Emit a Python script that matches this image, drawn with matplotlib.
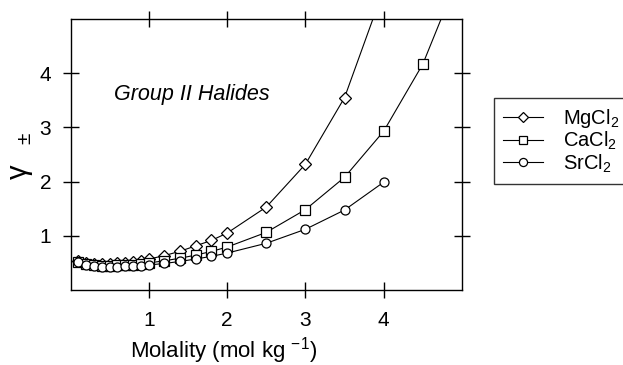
import numpy as np
import matplotlib.pyplot as plt

plt.rcParams['font.family'] = ['Liberation Sans', 'DejaVu Sans']
plt.rcParams['mathtext.fontset'] = 'custom'
plt.rcParams['mathtext.rm'] = 'Liberation Sans'
plt.rcParams['mathtext.it'] = 'Liberation Sans:italic'

# molalidades (mol/kg) e coeficientes de atividade
m_low = [0.1, 0.2, 0.3, 0.4, 0.5, 0.6, 0.7, 0.8, 0.9, 1.0,
         1.2, 1.4, 1.6, 1.8, 2.0, 2.5, 3.0, 3.5, 4.0]
m_mg = m_low
g_mg = [0.529, 0.489, 0.477, 0.475, 0.481, 0.491, 0.506, 0.522, 0.544, 0.570,
        0.635, 0.715, 0.815, 0.915, 1.05, 1.53, 2.32, 3.55, 5.55]
m_ca = m_low + [4.5, 5.0]
g_ca = [0.518, 0.472, 0.455, 0.448, 0.448, 0.453, 0.460, 0.470, 0.484, 0.500,
        0.539, 0.587, 0.644, 0.712, 0.792, 1.063, 1.483, 2.08, 2.93, 4.17, 5.95]
m_sr = m_low
g_sr = [0.511, 0.462, 0.442, 0.433, 0.430, 0.431, 0.434, 0.441, 0.449, 0.461,
        0.490, 0.527, 0.572, 0.621, 0.681, 0.862, 1.120, 1.476, 1.99]

fig = plt.figure(figsize=(6.23, 3.65), dpi=100)
ax = fig.add_axes([70.5/623, 1-290/365, 391.5/623, 271/365])

kw = dict(color='black', lw=0.8, mfc='white', mec='black', mew=0.9)
ax.plot(m_mg, g_mg, marker='D', ms=6, label='MgCl$_2$', **kw)
ax.plot(m_ca, g_ca, marker='s', ms=6.5, label='CaCl$_2$', **kw)
ax.plot(m_sr, g_sr, marker='o', ms=6.5, label='SrCl$_2$', **kw)

ax.set_xlim(0, 5)
ax.set_ylim(0, 5)
ax.set_xticks([1, 2, 3, 4])
ax.set_yticks([1, 2, 3, 4])
ax.tick_params(direction='inout', length=12, width=1, labelsize=15,
               top=True, right=True)
ax.tick_params(axis='x', pad=9)
ax.tick_params(axis='y', pad=8)
for s in ax.spines.values():
    s.set_linewidth(1)

ax.text(1.55, 3.6, 'Group II Halides', style='italic', fontsize=15.5,
        ha='center', va='center')

ax.set_xlabel('Molality (mol kg $^{-1}$)', fontsize=16)
ax.xaxis.set_label_coords(0.39, -0.165)
ax.set_ylabel('γ', fontsize=21)
ax.yaxis.set_label_coords(-0.096, 0.435)
ax.text(-0.116, 0.561, '±', fontsize=15, rotation=90, ha='center',
        va='center', transform=ax.transAxes)

leg = fig.legend(loc='upper left', bbox_to_anchor=(494/623, 1-98/365),
                 fontsize=14.5, frameon=True, fancybox=False, borderpad=0.45,
                 labelspacing=0.0, handlelength=2.0, handletextpad=1.0,
                 markerscale=0.9, borderaxespad=0)
leg.get_frame().set_edgecolor('black')
leg.get_frame().set_linewidth(1)

fig.savefig('out.png', dpi=100)
